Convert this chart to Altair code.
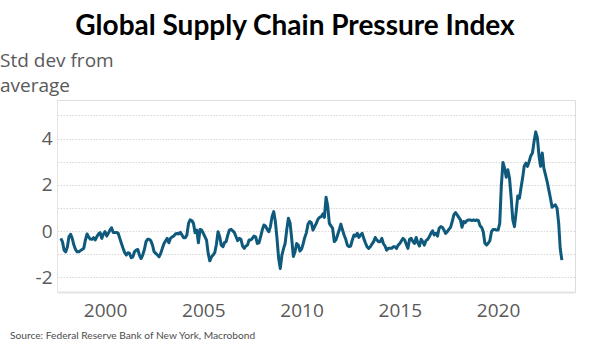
import altair as alt
import pandas as pd

# GSCPI monthly readings (std dev from average), month-start dates from Oct 1997
v1997 = [-0.32, -0.47, -0.83]
v1998 = [-0.90, -0.68, -0.25, -0.14, -0.32, -0.61, -0.80, -0.90, -0.90, -0.85, -0.80, -0.75]
v1999 = [-0.39, -0.13, -0.25, -0.35, -0.36, -0.29, -0.39, -0.25, -0.13, -0.07, -0.32, -0.13]
v2000 = [-0.03, -0.22, -0.10, 0.04, 0.14, -0.07, -0.07, -0.06, -0.10, -0.32, -0.54, -0.75]
v2001 = [-0.94, -1.04, -0.94, -0.97, -1.16, -1.12, -0.90, -0.83, -0.80, -1.04, -1.19, -1.04]
v2002 = [-0.80, -0.46, -0.36, -0.36, -0.42, -0.61, -0.90, -0.97, -1.04, -1.12, -0.97, -0.75]
v2003 = [-0.54, -0.42, -0.32, -0.51, -0.32, -0.25, -0.22, -0.13, -0.10, -0.13, -0.06, -0.17]
v2004 = [-0.29, -0.29, -0.17, 0.33, 0.48, 0.45, 0.33, -0.07, 0.04, -0.51, 0.07, 0.04]
v2005 = [-0.10, -0.25, -0.39, -0.97, -1.29, -1.12, -1.04, -0.94, -0.57, -0.03, -0.25, -0.61]
v2006 = [-0.68, -0.49, -0.46, -0.17, 0.04, 0.07, 0.01, -0.07, -0.25, -0.42, -0.32, -0.36]
v2007 = [-0.65, -0.75, -0.65, -0.61, -0.39, -0.39, -0.32, -0.22, -0.25, -0.54, -0.51, -0.25]
v2008 = [0.04, 0.26, 0.22, 0.07, -0.03, 0.19, 0.62, 0.84, 0.41, -0.32, -1.19, -1.62]
v2009 = [-1.04, -0.75, -0.54, 0.07, 0.55, 0.35, -0.32, -1.10, -0.90, -0.54, -0.61, -0.87]
v2010 = [-0.78, -0.54, -0.28, -0.07, 0.30, 0.41, 0.36, 0.04, 0.19, 0.33, 0.51, 0.59]
v2011 = [0.62, 0.74, 0.59, 1.46, 1.09, 0.33, 0.22, 0.12, -0.46, -0.39, -0.17, 0.04]
v2012 = [0.30, 0.04, -0.17, -0.36, -0.61, -0.68, -0.65, -0.39, -0.17, -0.22, -0.10, -0.28]
v2013 = [-0.17, -0.10, -0.32, -0.51, -0.68, -0.75, -0.68, -0.57, -0.46, -0.28, -0.39, -0.46]
v2014 = [-0.46, -0.32, -0.54, -0.65, -0.83, -0.75, -0.75, -0.75, -0.68, -0.68, -0.75, -0.61]
v2015 = [-0.54, -0.42, -0.32, -0.39, -0.57, -0.75, -0.36, -0.32, -0.46, -0.54, -0.28, -0.51]
v2016 = [-0.65, -0.36, -0.46, -0.61, -0.42, -0.36, -0.25, -0.10, 0.01, -0.17, -0.10, -0.22]
v2017 = [0.12, 0.19, 0.16, 0.04, -0.10, -0.03, 0.07, 0.16, 0.41, 0.70, 0.80, 0.70]
v2018 = [0.59, 0.48, 0.16, 0.41, 0.36, 0.45, 0.48, 0.48, 0.45, 0.48, 0.45, 0.48]
v2019 = [0.45, 0.22, 0.16, -0.03, -0.53, -0.61, -0.53, -0.42, -0.03, 0.07, 0.07, 0.04]
v2020 = [0.04, 0.33, 1.93, 2.97, 2.72, 2.33, 2.65, 2.29, 1.42, 0.48, 0.19, 0.80]
v2021 = [1.52, 1.42, 1.85, 2.29, 2.80, 2.94, 2.80, 3.01, 3.26, 3.38, 3.88, 4.29]
v2022 = [4.03, 3.23, 2.80, 3.38, 2.72, 2.43, 2.14, 1.78, 1.42, 1.03, 1.09, 1.13]
v2023 = [0.99, 0.33, -0.75, -1.26]

values = (v1997 + v1998 + v1999 + v2000 + v2001 + v2002 + v2003 + v2004 + v2005
          + v2006 + v2007 + v2008 + v2009 + v2010 + v2011 + v2012 + v2013 + v2014
          + v2015 + v2016 + v2017 + v2018 + v2019 + v2020 + v2021 + v2022 + v2023)
dates = pd.date_range("1997-10-01", periods=len(values), freq="MS")
df = pd.DataFrame({"date": dates, "value": values})

x_tick_years = [2000, 2005, 2010, 2015, 2020]
y_grid_values = [-2, -1, 0, 1, 2, 3, 4, 5]

title_text = "Global Supply Chain Pressure Index"
ytitle_lines = ["Std dev from", "average"]
source_text = "Source: Federal Reserve Bank of New York, Macrobond"

label_color = "#595959"
line_color = "#0f5a7c"

line = alt.Chart(df).mark_line(color=line_color, strokeWidth=3, strokeJoin="round").encode(
    x=alt.X("date:T",
            scale=alt.Scale(domain=[alt.DateTime(year=1997, month=7, date=22),
                                    alt.DateTime(year=2023, month=12, date=1)]),
            axis=alt.Axis(values=[alt.DateTime(year=y) for y in x_tick_years],
                          format="%Y", title=None, grid=False, ticks=False,
                          labelFontSize=19, labelFont="Open Sans", labelColor=label_color,
                          labelPadding=9, domainColor="#e3e3e3", domainWidth=2)),
    y=alt.Y("value:Q",
            scale=alt.Scale(domain=[-2.64, 5.67], nice=False, zero=False),
            axis=alt.Axis(values=y_grid_values,
                          labelExpr="datum.value % 2 === 0 ? '' + datum.value : ''",
                          title=None, grid=True, gridDash=[1.5, 1.5], gridColor="#d6d6d6",
                          gridWidth=1, ticks=False, labelFontSize=19, labelFont="Open Sans",
                          labelColor=label_color, labelPadding=5,
                          domainColor="#e6e6e6", domainWidth=1)),
)

title = alt.Chart(pd.DataFrame({"t": [title_text]})).mark_text(
    font="Lato", fontWeight="bold", fontSize=28, color="#000000",
    align="center", baseline="alphabetic").encode(
    text="t:N", x=alt.value(238), y=alt.value(-65))

ytitle1 = alt.Chart(pd.DataFrame({"t": [ytitle_lines[0]]})).mark_text(
    font="Open Sans", fontSize=19, color=label_color, align="left", baseline="alphabetic").encode(
    text="t:N", x=alt.value(-57), y=alt.value(-33))

ytitle2 = alt.Chart(pd.DataFrame({"t": [ytitle_lines[1]]})).mark_text(
    font="Open Sans", fontSize=19, color=label_color, align="left", baseline="alphabetic").encode(
    text="t:N", x=alt.value(-57), y=alt.value(-8))

source = alt.Chart(pd.DataFrame({"t": [source_text]})).mark_text(
    font="Lato", fontSize=10.2, color="#4d4d4d", align="left", baseline="middle").encode(
    text="t:N", x=alt.value(-47), y=alt.value(44 + 192))

chart = alt.layer(line, title, ytitle1, ytitle2, source).properties(
    width=518, height=192,
    autosize=alt.AutoSizeParams(type="none"),
    padding={"left": 57, "top": 100, "right": 25, "bottom": 61},
).configure_view(stroke=None).configure(background="white")

chart.save("out.html", embed_options={"renderer": "svg", "actions": False})
